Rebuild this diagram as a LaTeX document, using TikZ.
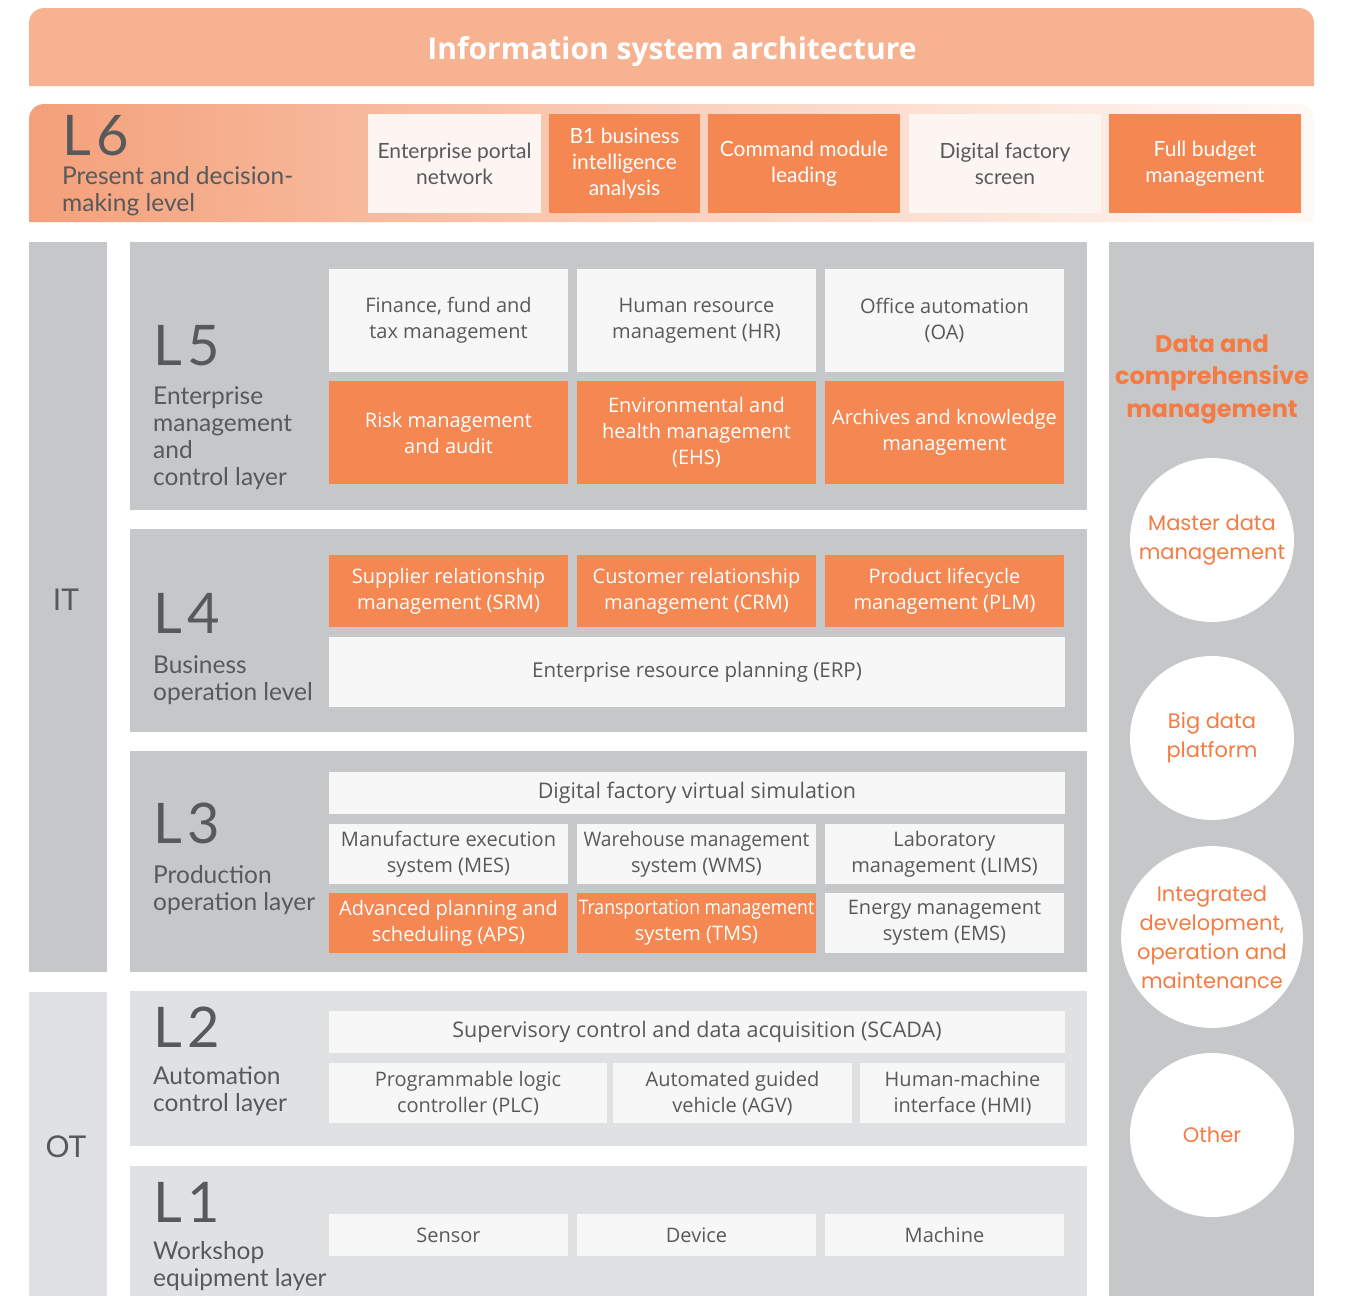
\documentclass[tikz,border=0pt]{standalone}
\usepackage{fontspec}
\setmainfont{Lato}
\newfontfamily\popfont{Poppins}
\newfontfamily\osfont{Open Sans}
\definecolor{titlec}{HTML}{F7B291}
\definecolor{orng}{HTML}{F48752}
\definecolor{darkg}{HTML}{C6C7C9}
\definecolor{lightg}{HTML}{E0E1E3}
\definecolor{boxw}{HTML}{F7F7F7}
\definecolor{boxp}{HTML}{FDF5F2}
\definecolor{txt}{HTML}{58595B}
\definecolor{otxt}{HTML}{F47C44}
\definecolor{bandL}{HTML}{F4A07A}
\definecolor{bandM}{HTML}{FAD0BC}
\definecolor{bandR}{HTML}{FFF9F6}
\newcommand\fs[2]{\fontsize{#1}{#2}\selectfont}
\newcommand\bx[7]{\node[#2, minimum width={(#5-#3)*1pt}, minimum height={(#6-#4)*1pt}] (#1) at ({(#3+#5)/2},{(#4+#6)/2}) {#7};}
\newcommand\lv[1]{L\kern6pt #1}
\tikzset{
  basebox/.style={inner sep=0pt, align=center, text=txt, font=\osfont\fs{20}{26}},
  wbox/.style={basebox, fill=boxw},
  pbox/.style={basebox, fill=boxp, font=\fs{21}{26}},
  obox/.style={basebox, fill=orng, text=white},
  panelD/.style={inner sep=0pt, fill=darkg},
  panelL/.style={inner sep=0pt, fill=lightg},
  lvl/.style={anchor=base west, inner sep=0pt, text=txt, font=\fs{56}{56}},
  lvltext/.style={anchor=base west, inner sep=0pt, text=txt, font=\fs{24.5}{27}, align=left},
  circ/.style={circle, fill=white, minimum size=164pt, inner sep=0pt, align=center, text=otxt, font=\popfont\fs{21}{29}},
}
\begin{document}
\begin{tikzpicture}[x=1pt,y=-1pt]
\useasboundingbox[fill=white] (0,0) rectangle (1361,1296);
% title bar
\fill[titlec] (29,86) {[rounded corners=15pt] -- (29,8) -- (1314,8)} -- (1314,86) -- cycle;
\node[text=white, font=\osfont\bfseries\fs{30}{30}] (title) at (672,52) {Information system architecture};
% L6 band
\shade[left color=bandL, right color=bandR, middle color=bandM] (29,222) {[rounded corners=15pt] -- (29,104) -- (1314,104)} -- (1314,222) -- cycle;
\node[lvl] (l6) at (62,155) {\lv{6}};
\node[lvltext] (l6t) at (62,211) {Present and decision-\\making level};
\bx{ep}{pbox}{368}{114}{541}{213}{Enterprise portal\\network}
\bx{bi}{obox,font=\fs{21}{26}}{549}{114}{700}{213}{B1 business\\intelligence\\analysis}
\bx{cm}{obox,font=\fs{21}{26}}{708}{114}{900}{213}{Command module\\leading}
\bx{dfs}{pbox}{909}{114}{1101}{213}{Digital factory\\screen}
\bx{fb}{obox,font=\fs{21}{26}}{1109}{114}{1301}{213}{Full budget\\management}
% side columns
\bx{itcol}{panelD}{29}{242}{107}{972}{}
\bx{otcol}{panelL}{29}{992}{107}{1296}{}
\node[text=txt, font=\fs{30}{30}] (it) at (66,600) {IT};
\node[text=txt, font=\fs{30}{30}] (ot) at (66,1147) {OT};
\bx{rcol}{panelD}{1109}{242}{1314}{1296}{}
\node[text=otxt, font=\popfont\bfseries\fs{24}{32.5}, align=center] (dcm) at (1212,379) {Data and\\comprehensive\\management};
\node[circ] (c1) at (1212,540) {Master data\\management};
\node[circ] (c2) at (1212,738) {Big data\\platform};
\node[circ] (c3) at (1212,937) {Integrated\\development,\\operation and\\maintenance};
\node[circ] (c4) at (1212,1135) {Other};
% L5
\bx{p5}{panelD}{130}{242}{1087}{510}{}
\node[lvl] (l5) at (153,365) {\lv{5}};
\node[lvltext] (l5t) at (153,485) {Enterprise\\management\\and\\control layer};
\bx{fin}{wbox}{329}{269}{568}{372}{Finance, fund and\\tax management}
\bx{hr}{wbox}{577}{269}{816}{372}{Human resource\\management (HR)}
\bx{oa}{wbox}{825}{269}{1064}{372}{Office automation\\(OA)}
\bx{risk}{obox}{329}{381}{568}{484}{Risk management\\and audit}
\bx{ehs}{obox}{577}{381}{816}{484}{Environmental and\\health management\\(EHS)}
\bx{arch}{obox}{825}{381}{1064}{484}{Archives and knowledge\\management}
% L4
\bx{p4}{panelD}{130}{529}{1087}{732}{}
\node[lvl] (l4) at (153,633) {\lv{4}};
\node[lvltext] (l4t) at (153,700) {Business\\operation level};
\bx{srm}{obox}{329}{555}{568}{627}{Supplier relationship\\management (SRM)}
\bx{crm}{obox}{577}{555}{816}{627}{Customer relationship\\management (CRM)}
\bx{plm}{obox}{825}{555}{1064}{627}{Product lifecycle\\management (PLM)}
\bx{erp}{wbox,font=\osfont\fs{20.5}{26}}{329}{637}{1065}{707}{Enterprise resource planning (ERP)}
% L3
\bx{p3}{panelD}{130}{751}{1087}{972}{}
\node[lvl] (l3) at (153,843) {\lv{3}};
\node[lvltext] (l3t) at (153,910) {Production\\operation layer};
\bx{dfvs}{wbox,font=\osfont\fs{21.5}{26}}{329}{772}{1065}{814}{Digital factory virtual simulation}
\bx{mes}{wbox}{329}{824}{568}{884}{Manufacture execution\\system (MES)}
\bx{wms}{wbox}{577}{824}{816}{884}{\scalebox{0.96}[1]{Warehouse management}\\system (WMS)}
\bx{lims}{wbox}{825}{824}{1064}{884}{Laboratory\\management (LIMS)}
\bx{aps}{obox}{329}{893}{568}{953}{Advanced planning and\\scheduling (APS)}
\bx{tms}{obox}{577}{893}{816}{953}{\scalebox{0.88}[1]{Transportation management}\\system (TMS)}
\bx{ems}{wbox}{825}{893}{1064}{953}{Energy management\\system (EMS)}
% L2
\bx{p2}{panelL}{130}{991}{1087}{1146}{}
\node[lvl] (l2) at (153,1047) {\lv{2}};
\node[lvltext] (l2t) at (153,1111) {Automation\\control layer};
\bx{scada}{wbox,font=\osfont\fs{21.5}{26}}{329}{1011}{1065}{1053}{Supervisory control and data acquisition (SCADA)}
\bx{plc}{wbox}{329}{1063}{607}{1123}{Programmable logic\\controller (PLC)}
\bx{agv}{wbox}{613}{1063}{852}{1123}{Automated guided\\vehicle (AGV)}
\bx{hmi}{wbox}{860}{1063}{1065}{1123}{Human-machine\\interface (HMI)}
% L1
\bx{p1}{panelL}{130}{1166}{1087}{1296}{}
\node[lvl] (l1) at (153,1222) {\lv{1}};
\node[lvltext] (l1t) at (153,1286) {Workshop\\equipment layer};
\bx{sensor}{wbox}{329}{1214}{568}{1256}{Sensor}
\bx{device}{wbox}{577}{1214}{816}{1256}{Device}
\bx{machine}{wbox}{825}{1214}{1064}{1256}{Machine}
\end{tikzpicture}
\end{document}
